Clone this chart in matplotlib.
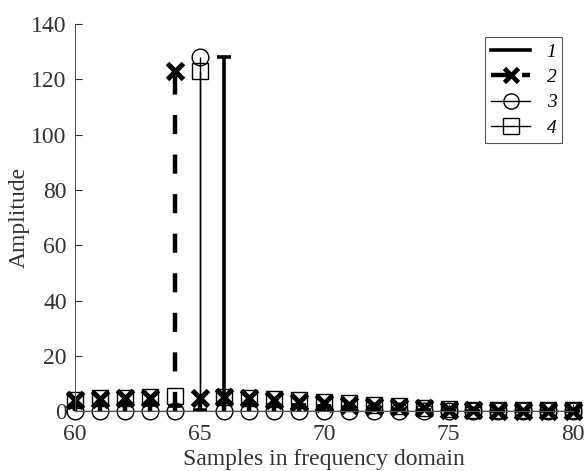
import matplotlib.pyplot as plt
from matplotlib.lines import Line2D
from matplotlib.legend_handler import HandlerLine2D
import numpy as np

plt.rcParams['font.family'] = ['Liberation Serif', 'DejaVu Serif']

# samples in frequency domain
k = list(range(60, 81))

# amplitude of each signal
amp1 = [2.0, 2.2, 2.3, 2.4, 2.0, 0.5, 128, 2.6, 2.4, 2.2, 1.8, 1.4, 1.0, 0.7, 0.5, 0.3, 0.2, 0.1, 0.1, 0.1, 0.1]
amp2 = [4.0, 4.4, 4.7, 4.9, 123, 4.8, 5.0, 4.6, 4.1, 3.5, 3.0, 2.4, 1.8, 1.4, 1.0, 0.6, 0.3, 0.2, 0.2, 0.2, 0.2]
amp3 = [0, 0, 0, 0, 0, 128, 0, 0, 0, 0, 0, 0, 0, 0, 0, 0, 0, 0, 0, 0, 0]
amp4 = [4.2, 4.6, 4.9, 5.2, 5.4, 123, 5.2, 4.9, 4.5, 4.0, 3.4, 2.8, 2.2, 1.7, 1.2, 0.8, 0.5, 0.3, 0.3, 0.3, 0.3]
labels = ['1', '2', '3', '4']

fig = plt.figure(figsize=(5.86, 4.71), dpi=100)
ax = fig.add_axes([0.128, 0.127, 0.850, 0.822])


def stem(y, lw, marker, ms, mew, dashes=None):
    ml, sl, bl = ax.stem(k, y, basefmt=' ')
    sl.set_color('black')
    sl.set_linewidth(lw)
    if dashes is not None:
        sl.set_linestyle((0, dashes))
    ml.set_marker(marker)
    ml.set_markersize(ms)
    ml.set_markeredgewidth(mew)
    ml.set_markeredgecolor('black')
    ml.set_markerfacecolor('none')
    ml.set_clip_on(False)
    sl.set_clip_on(False)


stem(amp1, 2.6, '_', 10, 2.6)
stem(amp2, 3.2, 'x', 11, 3.6, dashes=(4.3, 4.6))
stem(amp3, 1.0, 'o', 12, 1.0)
stem(amp4, 1.0, 's', 12, 1.0)

ax.axhline(0, color='black', lw=1.0, zorder=0.5)

ax.set_xlim(60, 80)
ax.set_ylim(0, 140)
ax.set_xticks([60, 65, 70, 75, 80])
ax.set_yticks(range(0, 141, 20))
ax.spines['top'].set_visible(False)
ax.spines['right'].set_visible(False)
for s in ['left', 'bottom']:
    ax.spines[s].set_color('#555555')
    ax.spines[s].set_linewidth(0.8)
ax.tick_params(direction='in', length=5, labelsize=17, colors='#333333')
ax.tick_params(axis='x', pad=9)
ax.tick_params(axis='y', pad=6)
ax.set_xlabel('Samples in frequency domain', fontsize=17, color='#333333', labelpad=3)
ax.set_ylabel('Amplitude', fontsize=17, color='#333333', labelpad=1)


class RightMarker(HandlerLine2D):
    # marker sits near the right end of the legend line, as in the reference
    def get_xdata(self, legend, xdescent, ydescent, width, height, fontsize):
        xm = -xdescent + 0.8 * width
        return [-xdescent, xm], [xm]


handles = [
    Line2D([], [], color='black', lw=2.6),
    Line2D([], [], color='black', lw=3.2, ls=(0, (4, 3)), marker='x', ms=10, mew=3.4),
    Line2D([], [], color='black', lw=1.0, marker='o', ms=11, mfc='none', mew=1.0),
    Line2D([], [], color='black', lw=1.0, marker='s', ms=11, mfc='none', mew=1.0),
]
leg = ax.legend(handles, labels, loc='upper right', bbox_to_anchor=(0.978, 0.966),
                fontsize=14, numpoints=1, handlelength=2.5, handletextpad=0.35,
                borderpad=0.3, labelspacing=0.4, fancybox=False, framealpha=1,
                borderaxespad=0, handler_map={Line2D: RightMarker()})
leg.get_frame().set_edgecolor('#555555')
leg.get_frame().set_linewidth(0.8)
for t in leg.get_texts():
    t.set_fontstyle('italic')

fig.savefig('out.png', dpi=100)
